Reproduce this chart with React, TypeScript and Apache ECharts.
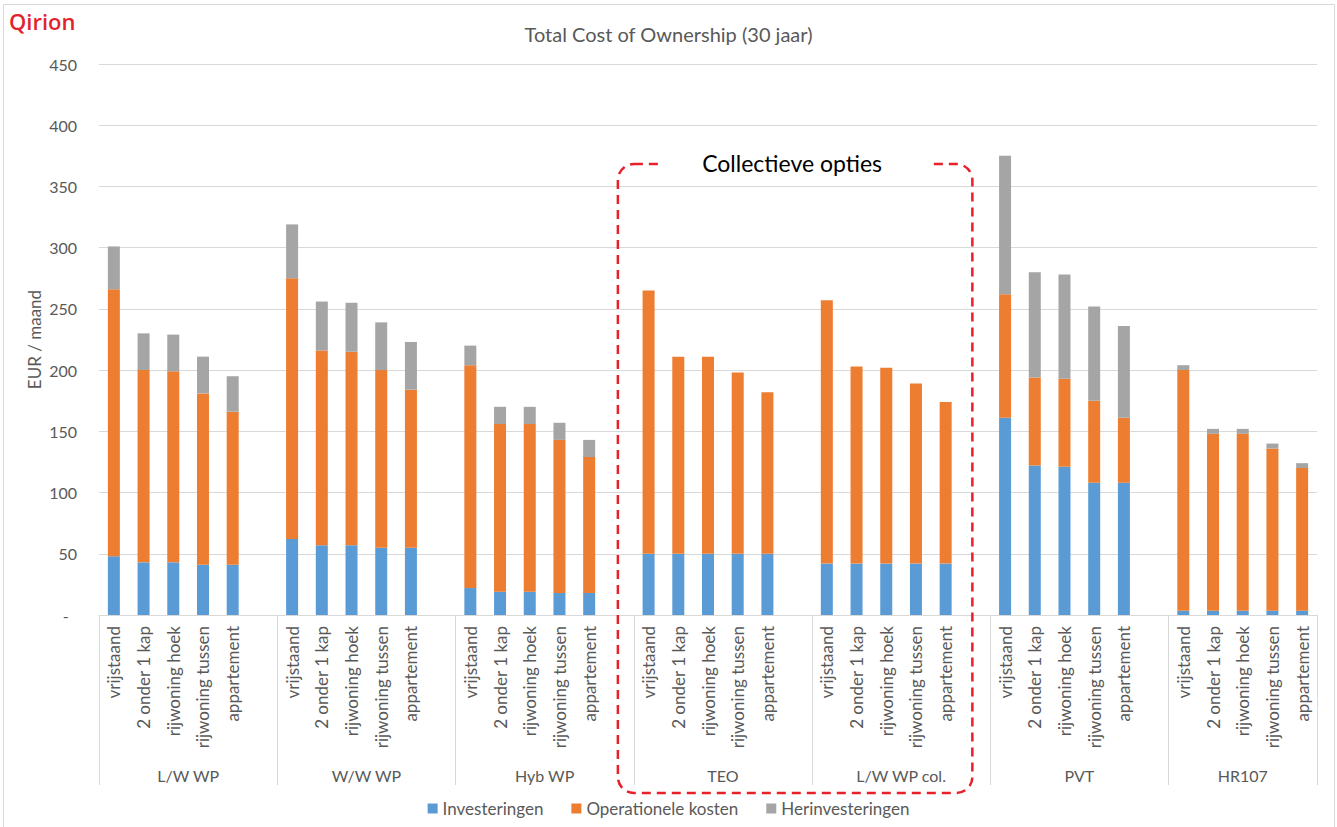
import React, { useEffect, useRef } from "react";
import * as echarts from "echarts";

// Heating options (outer category level)
const groups = ["L/W WP", "W/W WP", "Hyb WP", "TEO", "L/W WP col.", "PVT", "HR107"];
// Dwelling types (inner category level)
const dwellings = ["vrijstaand", "2 onder 1 kap", "rijwoning hoek", "rijwoning tussen", "appartement"];

// EUR / maand per group, one value per dwelling type
const investeringen = [
  [48, 43, 43, 41, 41],
  [62, 57, 57, 55, 55],
  [22, 19, 19, 18, 18],
  [50, 50, 50, 50, 50],
  [42, 42, 42, 42, 42],
  [161, 122, 121, 108, 108],
  [3.5, 3.5, 3.5, 3.5, 3.5],
];
const operationeleKosten = [
  [218, 157, 156, 140, 125],
  [213, 159, 158, 145, 129],
  [182, 137, 137, 125, 111],
  [215, 161, 161, 148, 132],
  [215, 161, 160, 147, 132],
  [101, 72, 72, 67, 53],
  [196.5, 144.5, 144.5, 132.5, 116.5],
];
const herinvesteringen = [
  [35, 30, 30, 30, 29],
  [44, 40, 40, 39, 39],
  [16, 14, 14, 14, 14],
  [0, 0, 0, 0, 0],
  [0, 0, 0, 0, 0],
  [113, 86, 85, 77, 75],
  [4, 4, 4, 4, 4],
];

const seriesNames = ["Investeringen", "Operationele kosten", "Herinvesteringen"];
const seriesColors = ["#5b9bd5", "#ed7d31", "#a5a5a5"];
const yTicks = [0, 50, 100, 150, 200, 250, 300, 350, 400, 450];

const TEXT = "#595959";
const LINE = "#d9d9d9";
const FONT = "Lato, 'Open Sans', sans-serif";
const SLOTS = 6; // five dwellings plus one empty slot between groups

// Flatten into one category axis with an empty slot after each group (not after the last)
const categories: string[] = [];
const flat = (rows: number[][]) => {
  const out: (number | null)[] = [];
  rows.forEach((row, g) => {
    row.forEach((v) => out.push(v));
    if (g < rows.length - 1) out.push(null);
  });
  return out;
};
groups.forEach((_, g) => {
  dwellings.forEach((d) => categories.push(d));
  if (g < groups.length - 1) categories.push("");
});

export default function App() {
  const ref = useRef<HTMLDivElement>(null);

  useEffect(() => {
    if (!ref.current) return;
    const chart = echarts.init(ref.current, undefined, { renderer: "svg" });
    const data = [investeringen, operationeleKosten, herinvesteringen].map(flat);

    chart.setOption({
      animation: false,
      textStyle: { fontFamily: FONT },
      title: {
        text: "Total Cost of Ownership (30 jaar)",
        left: "center",
        top: 19,
        textStyle: { fontSize: 20, fontWeight: "normal", color: TEXT, fontFamily: FONT },
      },
      legend: {
        bottom: 5,
        left: "center",
        icon: "rect",
        itemWidth: 10,
        itemHeight: 10,
        itemGap: 28,
        data: seriesNames,
        textStyle: { fontSize: 17, color: TEXT, fontFamily: FONT },
      },
      grid: { left: 99, right: 20, top: 64, bottom: 212, containLabel: false },
      xAxis: {
        type: "category",
        data: categories,
        axisLine: { lineStyle: { color: LINE, width: 1 } },
        axisTick: { show: false },
        axisLabel: {
          interval: 0,
          rotate: 90,
          margin: 11,
          fontSize: 17,
          color: TEXT,
          fontFamily: FONT,
        },
        splitLine: { show: false },
      },
      yAxis: {
        type: "value",
        min: yTicks[0],
        max: yTicks[yTicks.length - 1],
        interval: yTicks[1] - yTicks[0],
        axisLine: { show: false },
        axisTick: { show: false },
        axisLabel: {
          fontSize: 16,
          color: TEXT,
          margin: 22,
          fontFamily: FONT,
          formatter: (v: number) => (v === 0 ? "-  " : String(v)),
        },
        splitLine: { lineStyle: { color: LINE, width: 1 } },
      },
      series: seriesNames.map((name, i) => ({
        name,
        type: "bar",
        stack: "tco",
        barWidth: 12,
        itemStyle: { color: seriesColors[i] },
        data: data[i],
      })),
    });

    // Outer category level: dividers and labels placed from the axis scale
    const px = (i: number) => chart.convertToPixel({ xAxisIndex: 0 }, i) as number;
    const band = px(1) - px(0);
    const axisY = chart.convertToPixel({ yAxisIndex: 0 }, 0) as number;
    const last = categories.length - 1;

    const bounds = groups.map((_, gi) => px(gi * SLOTS) - band / 2);
    bounds.push(px(last) + band / 2);
    const dividers = bounds.map((bx) => ({
      type: "line",
      silent: true,
      shape: { x1: Math.round(bx) + 0.5, y1: axisY, x2: Math.round(bx) + 0.5, y2: axisY + 170 },
      style: { stroke: LINE, lineWidth: 1 },
    }));

    const groupLabels = groups.map((g, gi) => {
      const start = gi * SLOTS;
      const n = dwellings.length;
      const cx = gi < groups.length - 1 ? (bounds[gi] + bounds[gi + 1]) / 2 : (px(start) + px(start + n - 1)) / 2;
      return {
        type: "text",
        x: cx,
        y: 775,
        style: {
          text: g,
          fill: TEXT,
          font: `16px ${FONT}`,
          align: "center",
          verticalAlign: "middle",
        },
      };
    });

    const boxLeft = px(3 * SLOTS - 1) - 1;
    const boxRight = px(5 * SLOTS - 1) - 3;
    const boxTop = 164;
    const boxBottom = 793;
    const boxMid = (boxLeft + boxRight) / 2;

    chart.setOption({
      graphic: [
        {
          type: "rect",
          silent: true,
          shape: { x: 3.5, y: 4.5, width: 1331, height: 840 },
          style: { fill: "none", stroke: LINE, lineWidth: 1 },
          z: 0,
        },
        {
          type: "text",
          x: 9,
          y: 21,
          style: {
            text: "Qirion",
            fill: "#e3232c",
            font: "600 22px 'Open Sans', sans-serif",
            align: "left",
            verticalAlign: "middle",
          },
        },
        {
          type: "text",
          x: 34,
          y: (64 + axisY) / 2,
          rotation: Math.PI / 2,
          style: {
            text: "EUR / maand",
            fill: TEXT,
            font: `17px ${FONT}`,
            align: "center",
            verticalAlign: "middle",
          },
        },
        ...dividers,
        ...groupLabels,
        {
          type: "rect",
          silent: true,
          shape: { x: boxLeft, y: boxTop, width: boxRight - boxLeft, height: boxBottom - boxTop, r: 16 },
          style: { fill: "none", stroke: "#e8202a", lineWidth: 2.5, lineDash: [9, 6] },
          z: 10,
        },
        {
          type: "rect",
          silent: true,
          shape: { x: boxMid - 135, y: boxTop - 12, width: 270, height: 24 },
          style: { fill: "#ffffff" },
          z: 11,
        },
        {
          type: "text",
          x: boxMid - 3,
          y: boxTop - 1,
          z: 12,
          style: {
            text: "Collectieve opties",
            fill: "#000000",
            font: `23px ${FONT}`,
            align: "center",
            verticalAlign: "middle",
          },
        },
      ],
    });

    return () => chart.dispose();
  }, []);

  return (
    <div
      ref={ref}
      style={{ position: "absolute", left: 0, top: 0, width: 1337, height: 827, background: "#ffffff" }}
    />
  );
}
